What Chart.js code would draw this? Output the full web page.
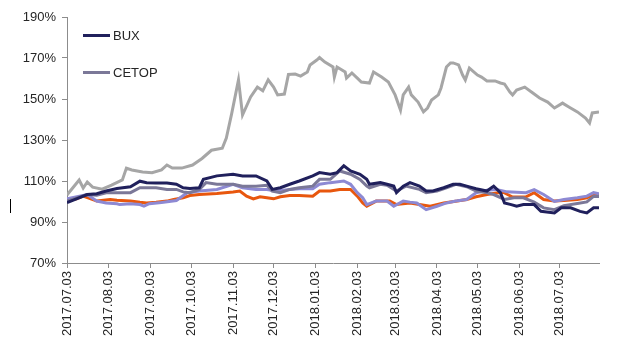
<!DOCTYPE html>
<html>
<head>
<meta charset="utf-8">
<script src="https://cdn.jsdelivr.net/npm/chart.js@4"></script>
<style>
  body { margin: 0; background: #fff; }
  #wrap { position: relative; width: 639px; height: 351px; }
  .leg { position: absolute; left: 83px; font: 13px "Liberation Sans", Arial, sans-serif; color: #262626; display: flex; align-items: center; }
  .leg span { display: inline-block; width: 27px; height: 3px; margin-right: 3px; }
  #mark { position: absolute; left: 10px; top: 199px; width: 1px; height: 14px; background: #000; }
</style>
</head>
<body>
<div id="wrap">
  <canvas id="chart" width="639" height="351"></canvas>
  <div class="leg" style="top:28px"><span style="background:#20205c"></span>BUX</div>
  <div class="leg" style="top:65px"><span style="background:#7b7898"></span>CETOP</div>
  <div id="mark"></div>
</div>
<script>
// napok 2017.07.03-tól, értékek %-ban (bázis = 100)
const tickDays = [0, 31, 62, 92, 123, 153, 184, 215, 243, 274, 304, 335, 365];
const tickLabels = ['2017.07.03', '2017.08.03', '2017.09.03', '2017.10.03', '2017.11.03', '2017.12.03',
    '2018.01.03', '2018.02.03', '2018.03.03', '2018.04.03', '2018.05.03', '2018.06.03', '2018.07.03'];

const buxDays = [0,7,15,22,29,37,47,54,59,66,74,81,86,91,98,101,111,123,130,140,148,152,158,165,172,182,187,195,200,205,210,217,222,224,232,237,242,244,249,254,261,266,271,279,286,291,296,303,311,316,321,324,329,333,338,346,351,361,366,373,380,385,390,394];
const buxValues = [99.4,101.3,103.4,103.8,105.1,106.3,107.2,109.9,109.2,109,109,108.4,106.7,106.3,106.7,110.8,112.5,113.3,112.5,112.5,110,105.9,106.7,108.4,110,112.5,114.1,113.3,114.1,117.4,114.9,113.3,110.8,108.4,109.2,108.4,107.5,104.3,107.5,109.2,107.5,105.1,105.1,106.7,108.4,108.4,107.5,106.2,105.1,107.5,104.3,99.3,98.5,97.7,98.5,98.5,95.2,94.4,96.9,96.9,95.2,94.4,96.9,97];

const cetopDays = [0,15,22,29,47,54,66,74,81,86,91,98,103,111,123,130,140,148,152,158,165,172,182,187,195,202,210,217,222,224,232,237,244,251,261,266,274,281,288,296,303,311,316,324,331,338,346,353,361,368,378,385,390,394];
const cetopValues = [100.2,103.4,103,104.3,104.3,106.7,106.7,105.9,105.9,104.7,104.3,105.9,109.2,108.4,108.4,107.5,107.5,107.9,105.1,104.3,105.9,106.7,107.5,110.8,110.8,114.9,113.3,110.8,107.5,106.7,108.4,107.9,105.1,107.5,105.9,104.3,105.1,106.7,108.4,107.2,105.1,104.3,103.4,101,101.8,101.8,99.7,96.9,96,98,99,99.8,102.5,102.5];

const purpleDays = [0,15,22,29,37,39,47,54,57,61,70,81,89,98,111,123,130,140,148,155,165,172,182,187,195,205,210,215,219,222,229,237,242,249,254,259,266,274,281,288,296,303,311,318,326,333,340,346,353,361,368,378,385,390,394];
const purpleValues = [101.3,103.4,100.2,99.3,98.9,98.5,98.9,98.5,97.7,98.9,99.5,100.5,104.3,105.1,105.9,108.4,106.7,105.9,105.9,105.1,105.9,106.2,106.2,108.4,109.2,110,108.4,104.3,101.8,98.5,100.2,100.2,97.7,100.2,99.7,99.3,96,97.7,99.3,100.2,101,104.3,105.5,105.9,104.7,104.5,104.3,105.8,103.4,100,101,101.8,102.6,104.3,103.8];

const orangeDays = [0,7,12,22,32,37,47,54,59,66,74,79,86,91,98,111,123,128,133,138,143,148,153,158,165,172,182,187,195,202,210,215,219,222,229,239,244,254,261,269,279,289,296,303,311,318,323,330,340,346,353,361,368,378,385,390,394];
const orangeValues = [100.6,101.3,102.6,100.2,101,100.6,100.2,99.6,99.3,99.6,100.2,101,101.8,102.9,103.4,103.9,104.6,105.1,102.6,101.3,102.3,101.8,101.3,102.3,102.9,102.9,102.6,105.1,105.1,105.9,105.9,102.6,99.3,97.7,100.2,100.2,98.5,99.3,98.5,97.7,99.3,100.2,101,102.3,103.4,104.1,104.5,102.2,102.3,104.3,101,100.2,100.5,101,101.8,103.4,103.4];

const grayDays = [0,9,12,15,19,26,33,41,44,48,56,63,70,74,78,85,93,100,107,115,118,122,127,130,136,141,145,149,153,156,161,164,169,173,178,180,185,187,191,197,198,200,206,207,211,215,218,224,227,233,238,243,247,249,253,255,260,264,267,270,275,277,281,284,286,290,293,295,298,304,307,311,317,321,324,328,330,333,339,345,350,356,361,367,372,378,384,387,389,394];
const grayValues = [103.2,110.5,106.6,109.5,107,106,108,110.5,116.3,115.4,114.4,114,115.4,117.8,116.3,116.3,117.8,121,125,126,131,143,159.3,142.2,151,155.8,154,159.3,155.8,152,152.4,162,162.2,161.2,163.2,166.6,169,170.2,168,165.6,160.7,165.6,163.2,160.2,162.7,160.2,158.3,157.8,163.2,160.7,158.3,152,144.6,152,155.8,152,148.5,143.7,145.6,149.5,152,155.4,165.6,167.6,167.6,166.6,161.7,159.3,165.1,161.7,160.7,158.8,158.8,157.8,157.3,153.4,152,154.4,155.8,152.9,150.5,148.5,145.6,148,146,143.7,140.7,138.3,143.2,143.7];

function pontok(days, values) {
    return days.map((d, i) => ({ x: d, y: values[i] }));
}

function sorozat(label, days, values, color) {
    return {
        label: label,
        data: pontok(days, values),
        borderColor: color,
        backgroundColor: color,
        borderWidth: 3,
        pointRadius: 0,
        tension: 0
    };
}

const axisColor = '#8c8c8c';
const tickFont = { family: '"Liberation Sans", Arial, sans-serif', size: 13 };

new Chart(document.getElementById('chart').getContext('2d'), {
    type: 'line',
    data: {
        datasets: [
            sorozat('BUX', buxDays, buxValues, '#20205c'),
            sorozat('CETOP', cetopDays, cetopValues, '#7b7898'),
            sorozat('', purpleDays, purpleValues, '#8d89d3'),
            sorozat('', orangeDays, orangeValues, '#e8570e'),
            sorozat('', grayDays, grayValues, '#a6a6a6')
        ]
    },
    options: {
        responsive: false,
        animation: false,
        layout: { padding: { top: 17, right: 40, left: 0, bottom: 0 } },
        plugins: { legend: { display: false }, tooltip: { enabled: false } },
        scales: {
            x: {
                type: 'linear',
                min: 0,
                max: 394,
                afterBuildTicks: s => { s.ticks = tickDays.map(v => ({ value: v })); },
                afterFit: s => { s.height = 88; },
                grid: { drawOnChartArea: false, color: axisColor, tickLength: 5 },
                border: { color: axisColor },
                ticks: {
                    autoSkip: false,
                    maxRotation: 90,
                    minRotation: 90,
                    padding: 3,
                    color: '#262626',
                    font: tickFont,
                    callback: v => tickLabels[tickDays.indexOf(v)]
                }
            },
            y: {
                min: 70,
                max: 190,
                afterFit: s => { s.width = 67; },
                grid: { drawOnChartArea: false, color: axisColor, tickLength: 5 },
                border: { color: axisColor },
                ticks: {
                    stepSize: 20,
                    padding: 6,
                    color: '#262626',
                    font: tickFont,
                    callback: v => v + '%'
                }
            }
        }
    }
});
</script>
</body>
</html>
